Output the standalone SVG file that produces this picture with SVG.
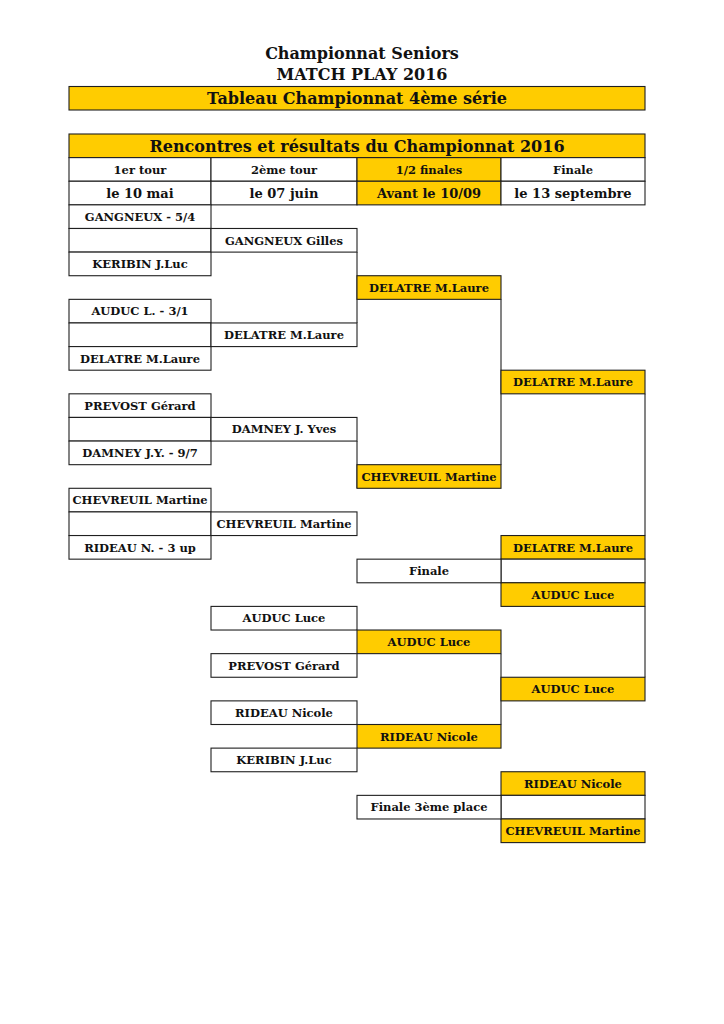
<svg xmlns="http://www.w3.org/2000/svg" width="724" height="1024" viewBox="0 0 724 1024">
<style>
.c{fill:#ffffff;stroke:#1f1f1f;stroke-width:1.1}
.y{fill:#ffcc00;stroke:#1f1f1f;stroke-width:1.1}
.t{font-family:"DejaVu Serif","Liberation Serif",serif;font-weight:bold;fill:#111;text-anchor:middle}
.s{font-size:11.5px}
.h{font-size:13px}
.big{font-size:16px}
.big2{font-size:16px}
.ln{stroke:#1f1f1f;stroke-width:1.1;fill:none}
</style>
<rect width="724" height="1024" fill="#ffffff"/>
<g id="titles">
<text class="t big" x="362" y="59">Championnat Seniors</text>
<text class="t big" x="362" y="80">MATCH PLAY 2016</text>
</g>
<g id="banner">
<rect class="y" x="69" y="86.5" width="576" height="23.5"/>
<text class="t big" x="357" y="104">Tableau Championnat 4ème série</text>
</g>
<g id="table-title">
<rect class="y" x="69" y="134" width="576" height="23.62"/>
<text class="t big2" x="357" y="151.8">Rencontres et résultats du Championnat 2016</text>
</g>
<g id="header">
<rect class="c" x="69" y="157.62" width="142" height="23.62"/>
<rect class="c" x="211" y="157.62" width="146" height="23.62"/>
<rect class="y" x="357" y="157.62" width="144" height="23.62"/>
<rect class="c" x="501" y="157.62" width="144" height="23.62"/>
<text class="t s" x="140" y="173.6">1er tour</text>
<text class="t s" x="284" y="173.6">2ème tour</text>
<text class="t s" x="429" y="173.6">1/2 finales</text>
<text class="t s" x="573" y="173.6">Finale</text>
<rect class="c" x="69" y="181.24" width="142" height="23.62"/>
<rect class="c" x="211" y="181.24" width="146" height="23.62"/>
<rect class="y" x="357" y="181.24" width="144" height="23.62"/>
<rect class="c" x="501" y="181.24" width="144" height="23.62"/>
<text class="t h" x="140" y="197.6">le 10 mai</text>
<text class="t h" x="284" y="197.6">le 07 juin</text>
<text class="t h" x="429" y="197.6">Avant le 10/09</text>
<text class="t h" x="573" y="197.6">le 13 septembre</text>
</g>
<g id="connectors">
<line class="ln" x1="357" y1="252.1" x2="357" y2="322.96"/>
<line class="ln" x1="501" y1="299.34" x2="501" y2="464.68"/>
<line class="ln" x1="645" y1="393.82" x2="645" y2="535.54"/>
<line class="ln" x1="357" y1="441.06" x2="357" y2="488.3"/>
<line class="ln" x1="501" y1="653.64" x2="501" y2="724.5"/>
<line class="ln" x1="645" y1="606.4" x2="645" y2="677.26"/>
</g>
<g id="r1-m1">
<rect class="c" x="69" y="204.86" width="142" height="23.62"/>
<rect class="c" x="69" y="228.48" width="142" height="23.62"/>
<rect class="c" x="69" y="252.1" width="142" height="23.62"/>
<text class="t s" x="140" y="220.9">GANGNEUX - 5/4</text>
<text class="t s" x="140" y="268.1">KERIBIN J.Luc</text>
</g>
<g id="r2-m1">
<rect class="c" x="211" y="228.48" width="146" height="23.62"/>
<text class="t s" x="284" y="244.5">GANGNEUX Gilles</text>
</g>
<g id="sf-1">
<rect class="y" x="357" y="275.72" width="144" height="23.62"/>
<text class="t s" x="429" y="291.7">DELATRE M.Laure</text>
</g>
<g id="r1-m2">
<rect class="c" x="69" y="299.34" width="142" height="23.62"/>
<rect class="c" x="69" y="322.96" width="142" height="23.62"/>
<rect class="c" x="69" y="346.58" width="142" height="23.62"/>
<text class="t s" x="140" y="315.3">AUDUC L. - 3/1</text>
<text class="t s" x="140" y="362.6">DELATRE M.Laure</text>
</g>
<g id="r2-m2">
<rect class="c" x="211" y="322.96" width="146" height="23.62"/>
<text class="t s" x="284" y="339">DELATRE M.Laure</text>
</g>
<g id="f-1">
<rect class="y" x="501" y="370.2" width="144" height="23.62"/>
<text class="t s" x="573" y="386.2">DELATRE M.Laure</text>
</g>
<g id="r1-m3">
<rect class="c" x="69" y="393.82" width="142" height="23.62"/>
<rect class="c" x="69" y="417.44" width="142" height="23.62"/>
<rect class="c" x="69" y="441.06" width="142" height="23.62"/>
<text class="t s" x="140" y="409.8">PREVOST Gérard</text>
<text class="t s" x="140" y="457.1">DAMNEY J.Y. - 9/7</text>
</g>
<g id="r2-m3">
<rect class="c" x="211" y="417.44" width="146" height="23.62"/>
<text class="t s" x="284" y="433.4">DAMNEY J. Yves</text>
</g>
<g id="sf-2">
<rect class="y" x="357" y="464.68" width="144" height="23.62"/>
<text class="t s" x="429" y="480.7">CHEVREUIL Martine</text>
</g>
<g id="r1-m4">
<rect class="c" x="69" y="488.3" width="142" height="23.62"/>
<rect class="c" x="69" y="511.92" width="142" height="23.62"/>
<rect class="c" x="69" y="535.54" width="142" height="23.62"/>
<text class="t s" x="140" y="504.3">CHEVREUIL Martine</text>
<text class="t s" x="140" y="551.5">RIDEAU N. - 3 up</text>
</g>
<g id="r2-m4">
<rect class="c" x="211" y="511.92" width="146" height="23.62"/>
<text class="t s" x="284" y="527.9">CHEVREUIL Martine</text>
</g>
<g id="finale">
<rect class="y" x="501" y="535.54" width="144" height="23.62"/>
<rect class="c" x="501" y="559.16" width="144" height="23.62"/>
<rect class="y" x="501" y="582.78" width="144" height="23.62"/>
<rect class="c" x="357" y="559.16" width="144" height="23.62"/>
<text class="t s" x="573" y="551.5">DELATRE M.Laure</text>
<text class="t s" x="429" y="575.2">Finale</text>
<text class="t s" x="573" y="598.8">AUDUC Luce</text>
</g>
<g id="lb-m1">
<rect class="c" x="211" y="606.4" width="146" height="23.62"/>
<rect class="y" x="357" y="630.02" width="144" height="23.62"/>
<rect class="c" x="211" y="653.64" width="146" height="23.62"/>
<text class="t s" x="284" y="622.4">AUDUC Luce</text>
<text class="t s" x="429" y="646">AUDUC Luce</text>
<text class="t s" x="284" y="669.6">PREVOST Gérard</text>
</g>
<g id="lb-f">
<rect class="y" x="501" y="677.26" width="144" height="23.62"/>
<text class="t s" x="573" y="693.3">AUDUC Luce</text>
</g>
<g id="lb-m2">
<rect class="c" x="211" y="700.88" width="146" height="23.62"/>
<rect class="y" x="357" y="724.5" width="144" height="23.62"/>
<rect class="c" x="211" y="748.12" width="146" height="23.62"/>
<text class="t s" x="284" y="716.9">RIDEAU Nicole</text>
<text class="t s" x="429" y="740.5">RIDEAU Nicole</text>
<text class="t s" x="284" y="764.1">KERIBIN J.Luc</text>
</g>
<g id="third-place">
<rect class="y" x="501" y="771.74" width="144" height="23.62"/>
<rect class="c" x="501" y="795.36" width="144" height="23.62"/>
<rect class="y" x="501" y="818.98" width="144" height="23.62"/>
<rect class="c" x="357" y="795.36" width="144" height="23.62"/>
<text class="t s" x="573" y="787.7">RIDEAU Nicole</text>
<text class="t s" x="429" y="811.4">Finale 3ème place</text>
<text class="t s" x="573" y="835">CHEVREUIL Martine</text>
</g>
</svg>
